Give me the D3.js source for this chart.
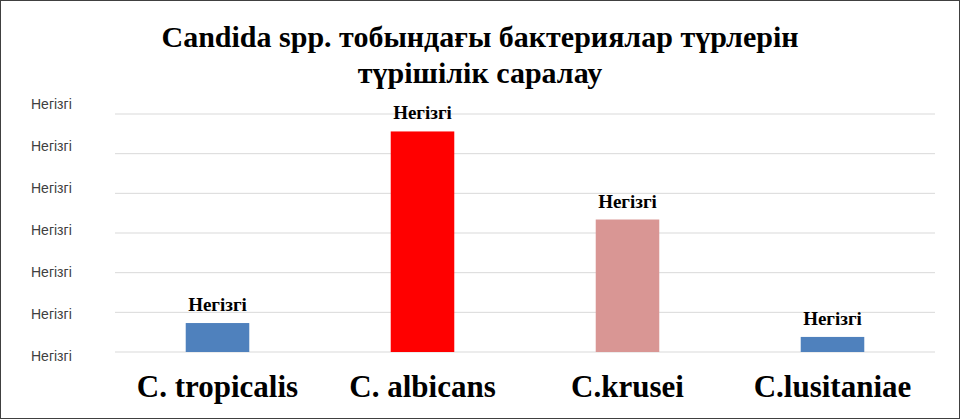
<!DOCTYPE html>
<html><head><meta charset="utf-8">
<script src="https://cdn.jsdelivr.net/npm/d3@7"></script>
<style>body{margin:0;background:#fff}</style>
</head><body><svg></svg>
<script>
const categories = ["C. tropicalis", "C. albicans", "C.krusei", "C.lusitaniae"];
const values = [7.3, 55.6, 33.4, 3.8];
const colors = ["#4f81bd", "#ff0000", "#d99694", "#4f81bd"];
const tickValues = [0, 10, 20, 30, 40, 50, 60];
const tickLabel = "Негізгі";

const width = 960, height = 419;
const margin = { top: 114, left: 115, right: 25, bottom: 67 };
const svg = d3.select("svg").attr("width", width).attr("height", height);

svg.append("rect").attr("x", 0.5).attr("y", 0.5).attr("width", width - 1).attr("height", height - 1)
  .attr("fill", "#fff").attr("stroke", "#404040");

const x = d3.scaleBand().domain(categories).range([margin.left, width - margin.right]).paddingInner(0.69).paddingOuter(0.345);
const y = d3.scaleLinear().domain([0, 60]).range([height - margin.bottom, margin.top]);
// axis labels in the original are spread slightly wider than the gridlines
const yLabel = d3.scaleLinear().domain([0, 60]).range([361, 109]);

svg.append("g").selectAll("line").data(tickValues).join("line")
  .attr("x1", margin.left).attr("x2", width - margin.right)
  .attr("y1", d => y(d)).attr("y2", d => y(d))
  .attr("stroke", "#d9d9d9");

svg.append("g").selectAll("text").data(tickValues).join("text")
  .attr("x", 31).attr("y", d => yLabel(d))
  .attr("font-family", "Liberation Sans, Arial").attr("font-size", 14).attr("fill", "#404040")
  .text(tickLabel);

svg.append("g").selectAll("rect").data(values).join("rect")
  .attr("x", (d, i) => x(categories[i])).attr("width", x.bandwidth())
  .attr("y", d => y(d)).attr("height", d => y(0) - y(d))
  .attr("fill", (d, i) => colors[i]);

svg.append("g").selectAll("text").data(values).join("text")
  .attr("x", (d, i) => x(categories[i]) + x.bandwidth() / 2).attr("y", d => y(d) - 12)
  .attr("text-anchor", "middle").attr("font-family", "Liberation Serif, Times New Roman")
  .attr("font-weight", "bold").attr("font-size", 19).attr("fill", "#000")
  .text(tickLabel);

svg.append("g").selectAll("text").data(categories).join("text")
  .attr("x", d => x(d) + x.bandwidth() / 2).attr("y", 397)
  .attr("text-anchor", "middle").attr("font-family", "Liberation Serif, Times New Roman")
  .attr("font-weight", "bold").attr("font-size", 31).attr("fill", "#000")
  .text(d => d);

const title = svg.append("text").attr("text-anchor", "middle")
  .attr("font-family", "Liberation Serif, Times New Roman").attr("font-weight", "bold")
  .attr("font-size", 30).attr("fill", "#000");
title.append("tspan").attr("x", 480).attr("y", 47).text("Candida spp. тобындағы бактериялар түрлерін");
title.append("tspan").attr("x", 480).attr("y", 83).text("түрішілік саралау");
</script></body></html>
